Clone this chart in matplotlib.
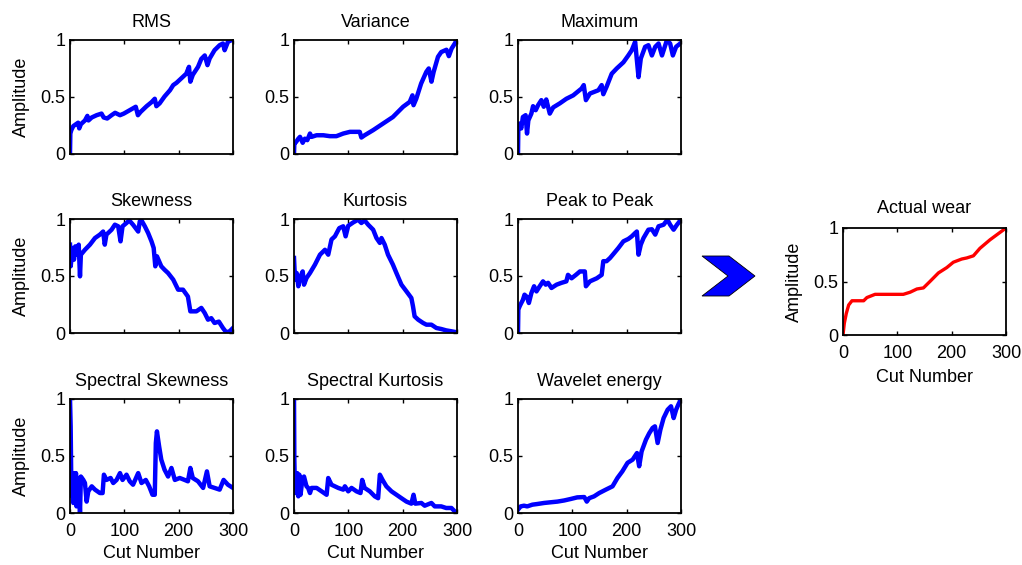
import matplotlib
matplotlib.use("Agg")
import matplotlib.pyplot as plt
from matplotlib.patches import Polygon

plt.rcParams['font.family'] = ['Liberation Sans', 'DejaVu Sans']
plt.rcParams['font.size'] = 13

# ---- data (cut number, normalised amplitude) ----
rms_x = [0, 0.6, 2.4, 6, 11, 15, 17, 20, 27.5, 32, 34, 40, 49, 58, 62, 68.5, 76.5, 83, 92, 99,
         110, 121, 125, 130, 141, 150, 156, 159, 165, 174, 184, 190, 196, 205, 214, 219, 221.5,
         226, 235.6, 241.7, 248, 253, 257, 266, 275.4, 281.5, 284.6, 290.7, 300]
rms_y = [0, 0.175, 0.205, 0.24, 0.257, 0.27, 0.22, 0.257, 0.29, 0.33, 0.29, 0.316, 0.336, 0.35,
         0.316, 0.307, 0.336, 0.357, 0.336, 0.35, 0.38, 0.41, 0.336, 0.365, 0.415, 0.45, 0.48,
         0.415, 0.44, 0.5, 0.555, 0.6, 0.62, 0.66, 0.70, 0.76, 0.63, 0.69, 0.76, 0.83, 0.86,
         0.775, 0.833, 0.906, 0.95, 0.965, 0.906, 0.98, 1.0]

var_x = [0, 0.6, 3.7, 8, 11, 16, 20, 24.5, 29.4, 32.4, 41.6, 54, 66, 78, 90.6, 103, 121, 124,
         130, 145.7, 164, 182, 200.8, 213, 218, 220, 225, 234, 243.5, 248, 253, 257, 265, 271,
         280.6, 285, 290, 296, 300]
var_y = [0, 0.088, 0.10, 0.13, 0.146, 0.094, 0.13, 0.117, 0.175, 0.146, 0.16, 0.16, 0.152,
         0.152, 0.175, 0.19, 0.19, 0.14, 0.16, 0.205, 0.263, 0.32, 0.41, 0.453, 0.51, 0.424,
         0.48, 0.614, 0.716, 0.746, 0.63, 0.716, 0.848, 0.89, 0.91, 0.854, 0.92, 0.965, 1.0]

max_x = [0, 0.6, 3, 6, 9, 14, 16.6, 19, 24.6, 27.7, 32.6, 37, 43, 47.4, 52, 58.5, 64.7, 77, 89,
         101.6, 117, 121, 125, 132.4, 148, 154, 157, 163, 172.5, 181.7, 194, 203, 209.4, 215.6,
         221.8, 226, 234, 240, 246.4, 252.6, 258.7, 265, 274, 280, 285, 291, 300]
max_y = [0, 0.234, 0.263, 0.22, 0.32, 0.336, 0.175, 0.29, 0.35, 0.415, 0.38, 0.424, 0.468,
         0.41, 0.474, 0.35, 0.404, 0.44, 0.48, 0.51, 0.57, 0.6, 0.468, 0.526, 0.555, 0.6, 0.52,
         0.585, 0.70, 0.746, 0.80, 0.86, 0.906, 0.98, 0.67, 0.833, 0.936, 0.95, 0.86, 0.936,
         0.965, 0.86, 0.994, 0.965, 0.86, 0.936, 0.97]

skew_x = [0, 1.2, 5, 7.3, 9.8, 13.5, 16, 18.4, 20, 27.5, 36.7, 46, 55, 61, 64, 67, 76.5, 82.6,
          88.7, 93, 96.7, 104, 109, 116, 125.5, 128.5, 131.6, 137.7, 143.8, 150, 154, 157, 160,
          168, 174, 180.5, 190, 199, 208, 217, 221.5, 232.6, 241.7, 248, 254, 260, 266, 274,
          281.5, 287.6, 293.8, 300]
skew_y = [0.775, 0.585, 0.746, 0.643, 0.76, 0.687, 0.775, 0.497, 0.687, 0.73, 0.775, 0.833,
          0.863, 0.89, 0.775, 0.863, 0.906, 0.95, 0.936, 0.804, 0.936, 0.965, 0.988, 0.95, 0.89,
          0.98, 0.988, 0.936, 0.877, 0.804, 0.746, 0.585, 0.673, 0.585, 0.555, 0.526, 0.468,
          0.38, 0.38, 0.32, 0.19, 0.19, 0.22, 0.175, 0.117, 0.13, 0.088, 0.10, 0.044, 0.006,
          0.015, 0.044]

kurt_x = [0, 1.8, 4.9, 8, 12, 16, 18.4, 23, 29.4, 38.6, 47.8, 57, 63, 69, 75.3, 83.3, 90.6, 95,
          99.8, 109, 118, 124, 130, 136.5, 145.7, 151.8, 158, 161, 167, 173, 182, 188.5, 197.7,
          207, 216, 219, 222, 228.5, 237.6, 243.7, 252.9, 262, 271, 280, 289.7, 300]
kurt_y = [0.658, 0.468, 0.526, 0.41, 0.497, 0.54, 0.424, 0.482, 0.526, 0.6, 0.687, 0.73, 0.687,
          0.82, 0.848, 0.92, 0.936, 0.848, 0.94, 0.97, 0.994, 0.965, 0.988, 0.95, 0.906, 0.833,
          0.79, 0.833, 0.775, 0.687, 0.6, 0.526, 0.424, 0.365, 0.307, 0.234, 0.146, 0.117,
          0.088, 0.073, 0.073, 0.044, 0.035, 0.023, 0.015, 0.006]

p2p_x = [0, 0.6, 3, 6, 9, 12, 16.6, 20, 24.6, 29.6, 34, 40, 46, 51, 55.4, 61.6, 71, 80, 89, 92,
         98.6, 106.6, 114, 123, 125, 132.4, 145, 154, 157, 163, 169.4, 176.8, 184.8, 194, 203,
         209.4, 215.6, 218.7, 221.8, 226, 231, 240, 246.4, 252.6, 258.7, 268, 275, 280, 286.4,
         292.6, 300]
p2p_y = [0, 0.205, 0.234, 0.263, 0.29, 0.336, 0.316, 0.263, 0.35, 0.41, 0.365, 0.41, 0.453,
         0.424, 0.44, 0.395, 0.424, 0.44, 0.453, 0.51, 0.48, 0.51, 0.54, 0.54, 0.41, 0.453,
         0.48, 0.51, 0.63, 0.63, 0.658, 0.70, 0.746, 0.804, 0.825, 0.848, 0.877, 0.89, 0.687,
         0.775, 0.833, 0.906, 0.91, 0.863, 0.936, 0.95, 0.994, 0.95, 0.906, 0.95, 0.994]

sskew_x = [0, 1.2, 2.4, 3.7, 4.9, 6, 7.3, 9.2, 11, 12, 14, 16, 18.4, 20, 24.5, 27.5, 30.6, 33.7,
           40, 46, 55, 60, 62.4, 67, 74.7, 79.6, 85.7, 92, 96.7, 104, 110, 116, 125.5, 131.6,
           139.5, 145.7, 151.8, 156, 158, 160, 164, 168, 174, 180.5, 186.7, 193, 202, 211, 217,
           221.5, 226, 235.6, 245, 252, 257, 266, 275.4, 282.7, 290.7, 300]
sskew_y = [1.0, 0.76, 0.234, 0.146, 0.35, 0.088, 0.35, 0.175, 0.35, 0.058, 0.263, 0.307, 0.0,
           0.32, 0.29, 0.263, 0.10, 0.19, 0.234, 0.205, 0.175, 0.175, 0.336, 0.29, 0.307, 0.263,
           0.29, 0.35, 0.29, 0.336, 0.278, 0.248, 0.35, 0.263, 0.29, 0.234, 0.16, 0.16, 0.614,
           0.716, 0.585, 0.468, 0.38, 0.32, 0.395, 0.29, 0.307, 0.29, 0.278, 0.395, 0.307,
           0.278, 0.22, 0.365, 0.234, 0.22, 0.205, 0.29, 0.248, 0.22]

skurt_x = [0, 0.6, 1.8, 3, 4.3, 6, 8, 9.8, 12, 15.3, 18.4, 23, 26, 29.4, 32.4, 41.6, 50.8, 60,
           63, 69, 81.4, 90.6, 93.7, 99.8, 105.9, 115, 122.4, 125.5, 130, 139.5, 148.7, 154.8,
           158, 163, 170, 179.4, 188.6, 197.7, 207, 216, 220, 223.3, 234.4, 240.5, 252.9, 259,
           271, 280, 289.7, 295.7, 300]
skurt_y = [1.0, 0.468, 0.175, 0.35, 0.175, 0.35, 0.146, 0.336, 0.16, 0.29, 0.32, 0.234, 0.22,
           0.175, 0.22, 0.22, 0.19, 0.16, 0.307, 0.248, 0.22, 0.205, 0.234, 0.19, 0.22, 0.19,
           0.175, 0.29, 0.22, 0.19, 0.146, 0.13, 0.336, 0.29, 0.234, 0.19, 0.16, 0.13, 0.10,
           0.082, 0.16, 0.082, 0.088, 0.064, 0.088, 0.058, 0.058, 0.044, 0.044, 0.015, 0.006]

wav_x = [0, 5, 11, 17, 26.4, 35.7, 48, 60, 72.5, 85, 97, 109, 122, 126.6, 131, 140, 149.4,
         161.7, 174, 183, 192, 201.6, 211, 219, 223, 227.5, 235.5, 241.6, 247.7, 252, 257, 262,
         268, 275.4, 281.6, 286.5, 291, 295, 300]
wav_y = [0.03, 0.058, 0.064, 0.058, 0.073, 0.079, 0.088, 0.094, 0.10, 0.11, 0.123, 0.137, 0.14,
         0.10, 0.13, 0.146, 0.175, 0.205, 0.234, 0.307, 0.365, 0.44, 0.468, 0.526, 0.41, 0.54,
         0.643, 0.70, 0.746, 0.76, 0.614, 0.73, 0.833, 0.906, 0.936, 0.833, 0.906, 0.95, 1.0]

wear_x = [0, 2.4, 6, 10.4, 16.5, 25.7, 38, 44, 59, 87, 111, 123.6, 136, 148, 160, 175.6, 191,
          203, 218.5, 227.7, 240, 252, 270.6, 300]
wear_y = [0, 0.109, 0.20, 0.28, 0.32, 0.32, 0.32, 0.35, 0.38, 0.38, 0.38, 0.40, 0.43, 0.44,
          0.50, 0.58, 0.63, 0.68, 0.71, 0.72, 0.74, 0.81, 0.89, 1.0]

titles = ['RMS', 'Variance', 'Maximum',
          'Skewness', 'Kurtosis', 'Peak to Peak',
          'Spectral Skewness', 'Spectral Kurtosis', 'Wavelet energy']
series = [(rms_x, rms_y), (var_x, var_y), (max_x, max_y),
          (skew_x, skew_y), (kurt_x, kurt_y), (p2p_x, p2p_y),
          (sskew_x, sskew_y), (skurt_x, skurt_y), (wav_x, wav_y)]

W, H = 1022, 565
fig = plt.figure(figsize=(W / 100, H / 100), dpi=100)


def px_rect(left, top, width, height):
    return [left / W, 1 - (top + height) / H, width / W, height / H]


def style(ax, xlabels, ylabel, xlabelpad=3.5):
    ax.set_xlim(0, 300)
    ax.set_ylim(0, 1)
    ax.set_xticks([0, 100, 200, 300])
    ax.set_yticks([0, 0.5, 1])
    ax.set_yticklabels(['0', '0.5', '1'])
    if not xlabels:
        ax.set_xticklabels([])
    ax.tick_params(direction='in', top=True, right=True, length=3, width=1, labelsize=13)
    ax.tick_params(axis='x', pad=7)
    ax.tick_params(axis='y', pad=3.5)
    for s in ax.spines.values():
        s.set_linewidth(1.3)
    if ylabel:
        ax.set_ylabel('Amplitude', labelpad=7)
    if xlabels:
        ax.set_xlabel('Cut Number', labelpad=xlabelpad)


lefts = [70, 294, 518]
tops = [39.5, 219, 399]
for i, (title, (x, y)) in enumerate(zip(titles, series)):
    r, c = divmod(i, 3)
    ax = fig.add_axes(px_rect(lefts[c], tops[r], 163, 114))
    ax.plot(x, y, color='#0000ff', lw=3.2, solid_joinstyle='round')
    ax.set_title(title, fontsize=13, pad=9)
    style(ax, r == 2, c == 0)

ax = fig.add_axes(px_rect(843, 228, 163, 107))
ax.plot(wear_x, wear_y, color='#ff0000', lw=2.4, solid_joinstyle='round')
ax.set_title('Actual wear', fontsize=13, pad=11)
style(ax, True, True, xlabelpad=5)

# chevron arrow between the grid and the actual wear plot
chev = [(702, 256), (729, 256), (755, 276), (729, 296), (702, 296), (728, 276)]
chev = [(px / W, 1 - py / H) for px, py in chev]
fig.patches.append(Polygon(chev, closed=True, facecolor='#0000ff', edgecolor='black',
                           lw=0.6, transform=fig.transFigure, figure=fig))

fig.savefig('out.png', dpi=100)
